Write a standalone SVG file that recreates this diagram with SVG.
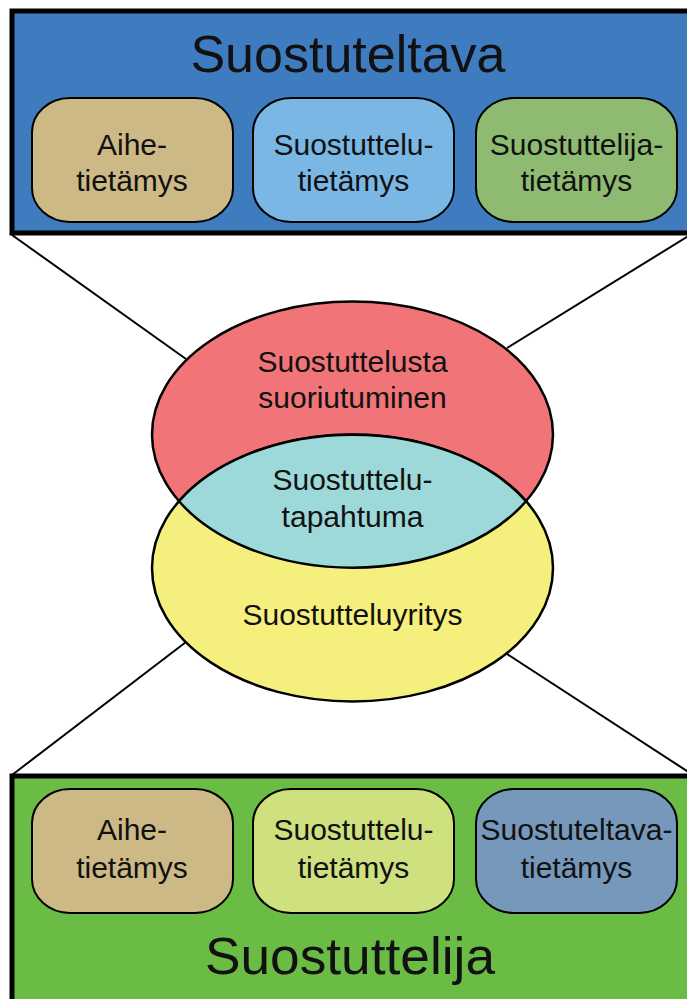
<svg xmlns="http://www.w3.org/2000/svg" width="687" height="999" viewBox="0 0 687 999">
<style>
text{font-family:"Liberation Sans",Arial,sans-serif;fill:#111;text-anchor:middle}
.t{font-size:30px}
.big{font-size:52px}
.frame{stroke:#000;stroke-width:5}
.box{stroke:#000;stroke-width:2}
.ell{stroke:#000;stroke-width:2.5}
.con{stroke:#000;stroke-width:2;fill:none}
</style>
<rect x="0" y="0" width="687" height="999" fill="#fff"/>
<g id="connectors">
<line class="con" x1="12" y1="235" x2="186" y2="359"/>
<line class="con" x1="690" y1="235" x2="507" y2="348"/>
<line class="con" x1="186" y1="642" x2="12" y2="775"/>
<line class="con" x1="507" y1="654" x2="690" y2="773"/>
</g>
<g id="suostuteltava">
<rect class="frame" x="12" y="11" width="700" height="222" fill="#3f7bbf"/>
<text class="big" x="348" y="72">Suostuteltava</text>
</g>
<g id="top-aihe">
<rect class="box" x="32" y="98" width="201" height="124" rx="38" ry="34" fill="#cdb985"/>
<text class="t" x="132" y="155">Aihe-</text>
<text class="t" x="132" y="191">tietämys</text>
</g>
<g id="top-suostuttelu">
<rect class="box" x="253" y="98" width="201" height="124" rx="38" ry="34" fill="#7ab7e5"/>
<text class="t" x="353.5" y="155">Suostuttelu-</text>
<text class="t" x="353.5" y="191">tietämys</text>
</g>
<g id="top-suostuttelija">
<rect class="box" x="476" y="98" width="201" height="124" rx="38" ry="34" fill="#8fba72"/>
<text class="t" x="576.5" y="155">Suostuttelija-</text>
<text class="t" x="576.5" y="191">tietämys</text>
</g>
<g id="suoriutuminen">
<ellipse class="ell" cx="352.5" cy="434.5" rx="200.5" ry="133" fill="#f07478"/>
<text class="t" x="352.5" y="372">Suostuttelusta</text>
<text class="t" x="352.5" y="408">suoriutuminen</text>
</g>
<g id="suostutteluyritys">
<ellipse class="ell" cx="352.5" cy="568" rx="200.5" ry="133.5" fill="#f5ef7d"/>
<text class="t" x="352.5" y="625">Suostutteluyritys</text>
</g>
<g id="tapahtuma">
<path class="ell" d="M179,501.3 A200.5,133.5 0 0 1 526,501.3 A200.5,133 0 0 1 179,501.3 Z" fill="#9ed9d9"/>
<text class="t" x="352.5" y="490">Suostuttelu-</text>
<text class="t" x="352.5" y="527">tapahtuma</text>
</g>
<g id="suostuttelija">
<rect class="frame" x="12" y="776" width="700" height="250" fill="#6bbc45"/>
<text class="big" x="350" y="974" textLength="290" lengthAdjust="spacingAndGlyphs">Suostuttelija</text>
</g>
<g id="bottom-aihe">
<rect class="box" x="32" y="789" width="201" height="124" rx="38" ry="34" fill="#cdb985"/>
<text class="t" x="132" y="840">Aihe-</text>
<text class="t" x="132" y="878">tietämys</text>
</g>
<g id="bottom-suostuttelu">
<rect class="box" x="253" y="789" width="201" height="124" rx="38" ry="34" fill="#cfe07f"/>
<text class="t" x="353.5" y="840">Suostuttelu-</text>
<text class="t" x="353.5" y="878">tietämys</text>
</g>
<g id="bottom-suostuteltava">
<rect class="box" x="476" y="789" width="201" height="124" rx="38" ry="34" fill="#7598bb"/>
<text class="t" x="576.5" y="840">Suostuteltava-</text>
<text class="t" x="576.5" y="878">tietämys</text>
</g>
</svg>
